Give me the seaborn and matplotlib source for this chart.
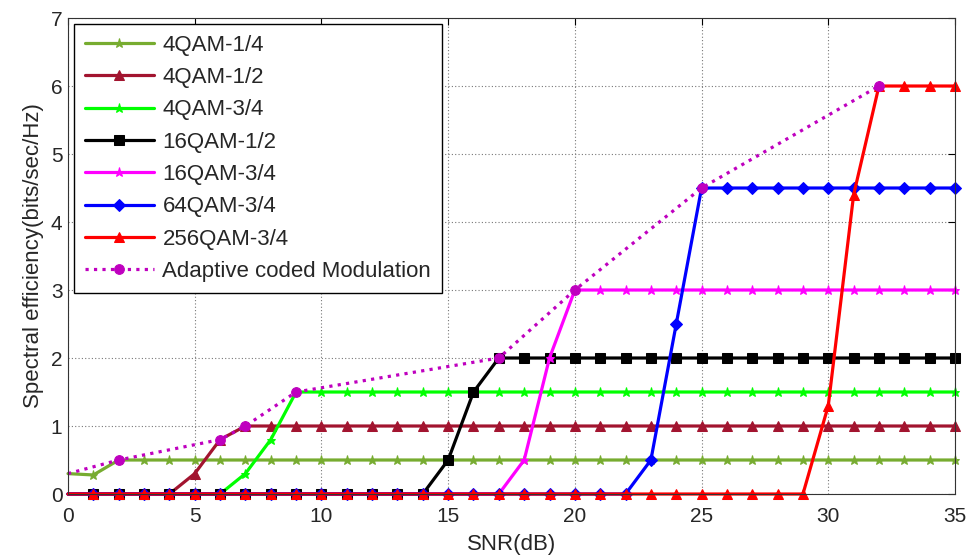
import numpy as np
import pandas as pd
import matplotlib
matplotlib.use("Agg")
import matplotlib.pyplot as plt
import seaborn as sns

# SNR grid (dB)
snr = list(range(0, 36))

# Spectral efficiency (bits/sec/Hz) for each modulation and coding scheme
qam4_14 = [0.3, 0.28] + [0.5] * 34
qam4_12 = [0, 0, 0, 0, 0, 0.3, 0.8] + [1.0] * 29
qam4_34 = [0] * 7 + [0.3, 0.8] + [1.5] * 27
qam16_12 = [0] * 15 + [0.5, 1.5] + [2.0] * 19
qam16_34 = [0] * 18 + [0.5, 2.0] + [3.0] * 16
qam64_34 = [0] * 23 + [0.5, 2.5] + [4.5] * 11
qam256_34 = [0] * 30 + [1.3, 4.4] + [6.0] * 4

# Adaptive coded modulation envelope (switching points)
acm_snr = [0, 2, 6, 7, 9, 17, 20, 25, 32]
acm_eff = [0.3, 0.5, 0.8, 1.0, 1.5, 2.0, 3.0, 4.5, 6.0]

labels = ["4QAM-1/4", "4QAM-1/2", "4QAM-3/4", "16QAM-1/2",
          "16QAM-3/4", "64QAM-3/4", "256QAM-3/4"]
series = [qam4_14, qam4_12, qam4_34, qam16_12, qam16_34, qam64_34, qam256_34]
colors = ["#77AC30", "#A2142F", "#00FF00", "#000000", "#FF00FF", "#0000FF", "#FF0000"]
markers = ["*", "^", "*", "s", "*", "D", "^"]
msizes = [6.5, 7.5, 6.5, 6.5, 6.5, 6, 7.5]

sns.set_style("white")
plt.rcParams["font.family"] = ["Liberation Sans", "DejaVu Sans"]

fig = plt.figure(figsize=(9.73, 5.56), dpi=100)
ax = fig.add_axes([0.0699, 0.1115, 0.9116, 0.8561])

for lab, vals, c, m, ms in zip(labels, series, colors, markers, msizes):
    df = pd.DataFrame({"SNR": snr, "eff": vals})
    sns.lineplot(data=df, x="SNR", y="eff", ax=ax, color=c, marker=m,
                 markersize=ms, markeredgecolor=c, linewidth=2.3, label=lab,
                 markevery=slice(1, None), clip_on=False)

acm = pd.DataFrame({"SNR": acm_snr, "eff": acm_eff})
sns.lineplot(data=acm, x="SNR", y="eff", ax=ax, color="#BF00BF", marker="o",
             markersize=7, markeredgecolor="#BF00BF", linewidth=2.3,
             linestyle=":", label="Adaptive coded Modulation",
             markevery=slice(1, None), clip_on=False)

ax.set_xlim(0, 35)
ax.set_ylim(0, 7)
ax.set_xticks(range(0, 36, 5))
ax.set_yticks(range(0, 8))
ax.grid(True, linestyle=(0, (1, 2)), color="#777777", linewidth=0.8)
ax.tick_params(direction="in", length=5, top=True, right=True,
               labelsize=15, color="black")
ax.tick_params(axis="x", pad=9)
ax.tick_params(axis="y", pad=4)
for s in ax.spines.values():
    s.set_color("#333333")
    s.set_linewidth(0.8)

ax.set_xlabel("SNR(dB)", fontsize=16, labelpad=6)
ax.set_ylabel("Spectral efficiency(bits/sec/Hz)", fontsize=16, labelpad=5)

leg = ax.legend(loc="upper left", fontsize=16, frameon=True, fancybox=False,
                edgecolor="black", framealpha=1, handlelength=3.1,
                handletextpad=0.4, labelspacing=0.51, borderaxespad=0.25,
                borderpad=0.5)
leg.get_frame().set_linewidth(1.0)

fig.savefig("out.png", dpi=100)
